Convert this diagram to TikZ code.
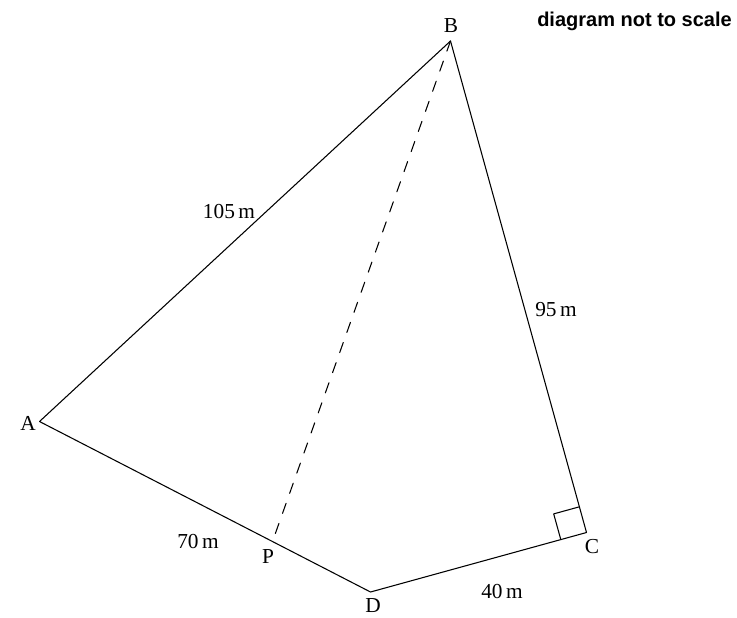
\documentclass[tikz,border=0pt]{standalone}
\usepackage{fontspec}
\setmainfont{Liberation Serif}
\setsansfont{Liberation Sans}
\usetikzlibrary{calc}

\begin{document}
\begin{tikzpicture}[
  x=0.75pt,
  y=-0.75pt,
  line cap=round,
  line join=round,
  side/.style={
    draw=black,
    line width=0.8pt
  },
  height/.style={
    draw=black,
    line width=0.8pt,
    dash pattern=on 8pt off 8pt
  },
  vertex/.style={
    inner sep=0pt,
    font=\fontsize{16}{18}\selectfont
  },
  length/.style={
    inner sep=0pt,
    font=\fontsize{16}{18}\selectfont
  }
]
\useasboundingbox (0,0) rectangle (737,617);

% ------------------------------------------------
% Corners of the field
% ------------------------------------------------
\coordinate (A) at (39.5,421.5);
\coordinate (B) at (450.5,41);
\coordinate (C) at (586.5,532.5);
\coordinate (D) at (370.5,592);
\coordinate (P) at (272.5,541.5);

\draw[side] (A) -- (B) -- (C) -- (D) -- (A);
\draw[height] (B) -- (P);

% Right angle at C.
\coordinate (cb) at ($(C)!20pt!(B)$);
\coordinate (cd) at ($(C)!20pt!(D)$);
\draw[side] (cb) -- ($(cb)+(cd)-(C)$) -- (cd);

% ------------------------------------------------
% Labels
% ------------------------------------------------
\node[vertex] (lA) at (28,423) {A};
\node[vertex] (lB) at (451,26) {B};
\node[vertex] (lC) at (592,547) {C};
\node[vertex] (lD) at (373,606) {D};
\node[vertex] (lP) at (268,557) {P};

\node[length] (ab) at (229,212) {105\,m};
\node[length] (bc) at (556,310) {95\,m};
\node[length] (cd) at (502,591) {40\,m};
\node[length] (ap) at (198,541) {70\,m};

\node[font=\sffamily\bfseries\fontsize{15}{17}\selectfont, anchor=base west, inner sep=0pt]
  (note) at (537,27) {diagram not to scale};

\end{tikzpicture}
\end{document}
